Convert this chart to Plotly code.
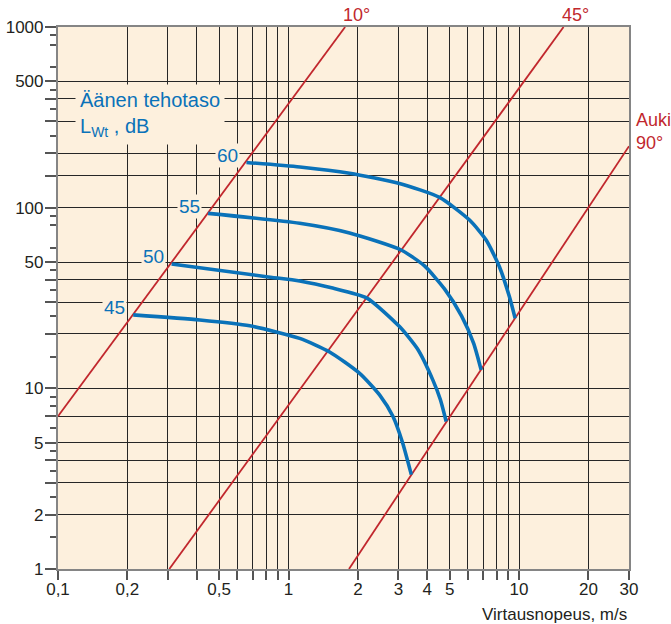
import math
import plotly.graph_objects as go

# ---------------- data ----------------
# Sound power level curves (L_Wt, dB): velocity (m/s) and pressure (Pa)
levels = [45, 50, 55, 60]
v45 = [0.212, 0.412, 0.679, 1.118, 1.508, 2.035, 2.483, 2.84, 3.125, 3.41]
p45 = [25.5, 23.9, 22.2, 18.9, 15.9, 12.1, 9.2, 6.98, 5.0, 3.33]
v50 = [0.311, 0.802, 1.118, 1.554, 2.18, 3.03, 3.63, 4.23, 4.56, 4.83]
p50 = [48.8, 41.5, 39.3, 35.9, 31.7, 21.96, 16.5, 11.1, 8.64, 6.55]
v55 = [0.448, 1.118, 1.84, 3.08, 3.89, 4.75, 5.63, 6.35, 6.85]
p55 = [93.0, 81.9, 72.4, 58.3, 47.6, 35.5, 25.2, 17.8, 12.65]
v60 = [0.657, 1.12, 1.84, 3.03, 4.52, 6.10, 7.20, 8.22, 9.08, 9.62]
p60 = [178, 168, 155, 136, 114, 85.4, 66.2, 47.1, 32.2, 24.4]

# Damper position lines
damper_names = ["10°", "45°", "Auki<br>90°"]
d10_v = [0.1, 1.76]
d10_p = [7.0, 1000]
d45_v = [0.304, 15.6]
d45_p = [1.0, 1000]
d90_v = [1.83, 30]
d90_p = [1.0, 219]

# Axis ticks
x_tickvals = [0.1, 0.2, 0.3, 0.4, 0.5, 0.6, 0.7, 0.8, 0.9, 1, 2, 3, 4, 5, 6, 7, 8, 9, 10, 20, 30]
x_ticktext = ["0,1", "0,2", "", "", "0,5", "", "", "", "", "1", "2", "3", "4", "5", "", "", "", "", "10", "20", "30"]
y_tickvals = [1, 2, 3, 4, 5, 7, 10, 20, 30, 40, 50, 100, 150, 200, 300, 400, 500, 1000]
y_ticktext = ["1", "2", "", "", "5", "", "10", "", "", "", "50", "100", "", "", "", "", "500", "1000"]
y_minorvals = [1.5, 2.5, 3.5, 4.5, 6, 8, 9, 15, 25, 35, 45, 60, 80, 90, 250, 350, 450, 600, 800, 900]

# ---------------- style ----------------
PEACH = "#FDF0DD"
BLUE = "#0A72B9"
RED = "#C1272D"
GRID = "#262626"
AXIS = "#858585"
TXT = "#231F20"
FONT = "Liberation Sans, Arial, sans-serif"

fig = go.Figure()

for v, p in [(d10_v, d10_p), (d45_v, d45_p), (d90_v, d90_p)]:
    fig.add_trace(go.Scatter(x=v, y=p, mode="lines", line=dict(color=RED, width=1.8),
                             hoverinfo="skip", showlegend=False, cliponaxis=True))

curves = [(v45, p45), (v50, p50), (v55, p55), (v60, p60)]
for v, p in curves:
    fig.add_trace(go.Scatter(x=v, y=p, mode="lines",
                             line=dict(color=BLUE, width=3.6, shape="spline", smoothing=0.6),
                             hoverinfo="skip", showlegend=False))

annotations = []
# curve level labels at curve start
for lev, (v, p) in zip(levels, curves):
    annotations.append(dict(x=math.log10(v[0]), y=math.log10(p[0]), xref="x", yref="y",
                            text=str(lev), showarrow=False, xanchor="right", yanchor="middle",
                            xshift=-6, yshift=7, bgcolor=PEACH, borderpad=1,
                            font=dict(family=FONT, size=19, color=BLUE)))

# damper labels at line ends
for name, (v, p), sh in zip(damper_names,
                            [(d10_v, d10_p), (d45_v, d45_p), (d90_v, d90_p)],
                            [(-4, 0), (-4, 0), (5, -9)]):
    annotations.append(dict(x=math.log10(v[-1]), y=math.log10(p[-1]), xref="x", yref="y",
                            text=name, showarrow=False, xanchor="left", yanchor="bottom",
                            align="left", xshift=sh[0], yshift=sh[1],
                            font=dict(family=FONT, size=18, color=RED)))

annotations.append(dict(x=0.0298, y=0.8386, xref="paper", yref="paper",
                        text="Äänen tehotaso<br>L<sub>Wt</sub> , dB", showarrow=False,
                        xanchor="left", yanchor="middle", align="left",
                        bgcolor=PEACH, borderpad=4,
                        font=dict(family=FONT, size=20, color=BLUE)))
annotations.append(dict(x=1.0, y=-0.084, xref="paper", yref="paper",
                        text="Virtausnopeus, m/s", showarrow=False,
                        xanchor="right", yanchor="middle",
                        font=dict(family=FONT, size=17, color=TXT)))
annotations.append(dict(x=-0.05, y=1.04, xref="paper", yref="paper",
                        text="Pa", showarrow=False, xanchor="center", yanchor="bottom",
                        font=dict(family=FONT, size=17, color=TXT)))

fig.update_layout(
    width=671, height=624,
    margin=dict(l=58, r=42, t=27, b=55, autoexpand=False),
    paper_bgcolor="white", plot_bgcolor=PEACH,
    annotations=annotations,
    font=dict(family=FONT, size=17, color=TXT),
)

fig.update_xaxes(type="log", range=[-1, math.log10(30)], automargin=False,
                 tickmode="array", tickvals=x_tickvals, ticktext=x_ticktext,
                 ticks="outside", ticklen=9, tickwidth=1.5, tickcolor="#555",
                 ticklabelstandoff=-6,
                 showgrid=True, gridcolor=GRID, gridwidth=1.3,
                 showline=True, linecolor=AXIS, linewidth=2.2, mirror=True,
                 zeroline=False, tickfont=dict(family=FONT, size=17, color=TXT))
fig.update_yaxes(type="log", range=[0, 3], automargin=False,
                 tickmode="array", tickvals=y_tickvals, ticktext=y_ticktext,
                 ticks="outside", ticklen=11, tickwidth=1.5, tickcolor="#555",
                 ticklabelstandoff=-2,
                 showgrid=True, gridcolor=GRID, gridwidth=1.3,
                 showline=True, linecolor=AXIS, linewidth=2.2, mirror=True,
                 zeroline=False, tickfont=dict(family=FONT, size=17, color=TXT),
                 minor=dict(tickmode="array", tickvals=y_minorvals, ticks="outside",
                            ticklen=6, tickwidth=1.5, tickcolor="#555", showgrid=False))

fig.write_html("out.html", config={"displayModeBar": False},
               post_script="document.body.style.margin='0';")
